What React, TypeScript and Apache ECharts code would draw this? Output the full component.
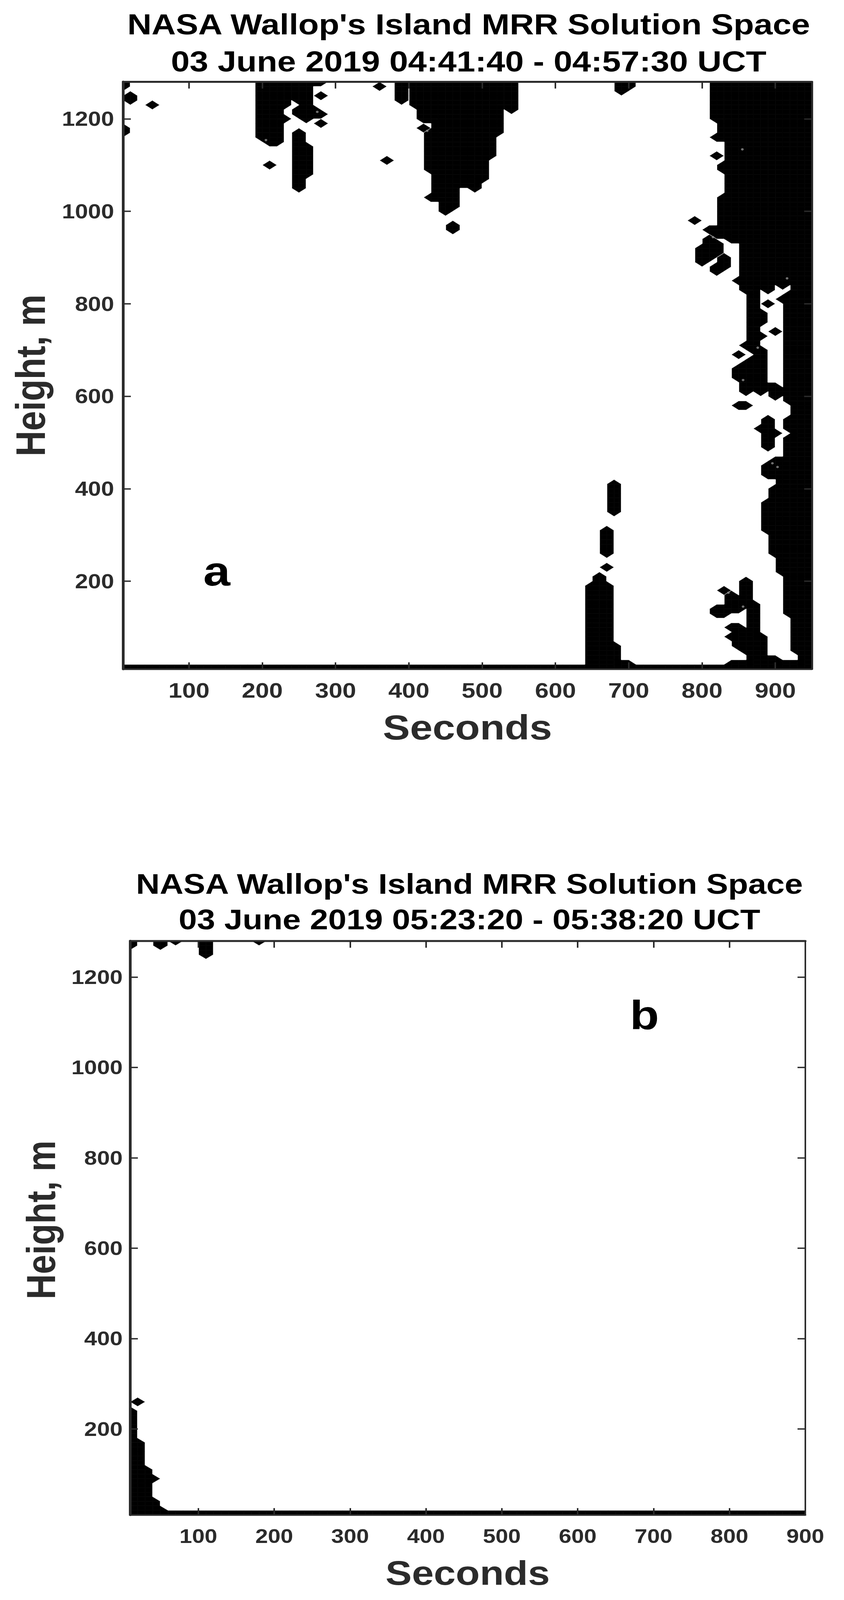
import { useEffect, useRef } from 'react';
import * as echarts from 'echarts';

const xTicksA = [100, 200, 300, 400, 500, 600, 700, 800, 900];
const xTicksB = [100, 200, 300, 400, 500, 600, 700, 800, 900];
const yTicks = [200, 400, 600, 800, 1000, 1200];

const titleA = "NASA Wallop's Island MRR Solution Space\n03 June 2019 04:41:40 - 04:57:30 UCT";
const titleB = "NASA Wallop's Island MRR Solution Space\n03 June 2019 05:23:20 - 05:38:20 UCT";

// solution cells, one entry per column run: [seconds, lowest height, highest height]
const panelARuns = [
  [10, 1170, 1180], [10, 1270, 1280], [20, 1240, 1250], [50, 1230, 1230],
  [200, 1160, 1280], [210, 1100, 1100], [210, 1150, 1280], [220, 1150, 1280],
  [230, 1200, 1200], [230, 1230, 1280], [240, 1250, 1280],
  [250, 1050, 1170], [250, 1210, 1220], [250, 1240, 1280],
  [260, 1080, 1140], [260, 1200, 1280], [270, 1210, 1220], [270, 1280, 1280],
  [280, 1190, 1190], [280, 1210, 1210], [280, 1250, 1250], [280, 1280, 1280],
  [360, 1270, 1270], [370, 1110, 1110], [390, 1240, 1280], [410, 1230, 1280],
  [420, 1180, 1180], [420, 1200, 1280],
  [430, 1030, 1030], [430, 1090, 1170], [430, 1200, 1280],
  [440, 1030, 1280], [450, 1000, 1280], [460, 960, 970], [460, 1010, 1280],
  [470, 1060, 1280], [480, 1060, 1280], [490, 1050, 1280], [500, 1070, 1280],
  [510, 1120, 1280], [520, 1170, 1280], [530, 1230, 1280], [540, 1220, 1280],
  [650, 10, 190], [660, 10, 210], [670, 10, 190], [670, 230, 230], [670, 260, 310],
  [680, 10, 60], [680, 350, 410], [690, 10, 20], [690, 1260, 1280],
  [700, 10, 20], [700, 1270, 1280],
  [790, 980, 980], [800, 890, 920], [810, 900, 940], [810, 960, 960],
  [820, 130, 140], [820, 870, 880], [820, 910, 930], [820, 950, 960],
  [820, 1120, 1120], [820, 1160, 1160], [820, 1200, 1280],
  [830, 130, 140], [830, 180, 180], [830, 880, 900], [830, 950, 1030],
  [830, 1090, 1100], [830, 1160, 1280],
  [840, 10, 20], [840, 80, 80], [840, 100, 100], [840, 140, 170], [840, 940, 1280],
  [850, 10, 20], [850, 60, 100], [850, 140, 160], [850, 580, 580], [850, 640, 660],
  [850, 690, 690], [850, 850, 850], [850, 940, 1280],
  [860, 10, 20], [860, 50, 90], [860, 150, 200], [860, 580, 580], [860, 610, 670],
  [860, 710, 710], [860, 830, 1280],
  [870, 10, 150], [870, 620, 680], [870, 700, 1280],
  [880, 10, 80], [880, 530, 530], [880, 610, 700], [880, 730, 730], [880, 760, 780],
  [880, 840, 1280],
  [890, 10, 30], [890, 310, 370], [890, 430, 450], [890, 490, 550], [890, 620, 620],
  [890, 800, 800], [890, 830, 1280],
  [900, 10, 30], [900, 260, 400], [900, 430, 460], [900, 520, 520], [900, 600, 620],
  [900, 740, 740], [900, 850, 1280],
  [910, 10, 20], [910, 220, 460], [910, 610, 610], [910, 810, 810], [910, 840, 1280],
  [920, 10, 20], [920, 130, 510], [920, 530, 550], [920, 590, 820], [920, 850, 1280],
  [930, 10, 20], [930, 50, 1280], [940, 10, 1280], [950, 10, 1280],
];

const panelBRuns = [
  [10, 10, 240], [10, 1270, 1280], [20, 10, 170], [20, 260, 260], [30, 10, 110],
  [40, 10, 40], [40, 90, 90], [50, 10, 20], [50, 1270, 1280], [70, 1280, 1280],
  [110, 1250, 1280], [180, 1280, 1280],
];

// the lowest range gate is filled for the whole record: [from, to, height]
const panelAGround = [10, 950, 10];
const panelBGround = [10, 900, 10];

// pale pin holes left inside the filled regions of panel a
const panelASpecks = [
  [855, 1134], [815, 944], [916, 855], [876, 705], [856, 635], [836, 175],
  [856, 145], [896, 455], [903, 447], [275, 1215], [205, 1154], [425, 1174],
];

const PAGE_WIDTH = 2161;
const PAGE_HEIGHT = 4771;

const STEP_X = 10;
const STEP_Y = 10;
const LEVEL = 0.08;

type Pt = [number, number];

function buildSquares(runs: number[][], ground: number[]) {
  const on = new Set<string>();
  runs.forEach(([s, lo, hi]) => {
    for (let y = lo; y <= hi; y += STEP_Y) on.add(s + '_' + y);
  });
  for (let s = ground[0]; s <= ground[1]; s += STEP_X) on.add(s + '_' + ground[2]);

  const squares: number[][] = [];
  for (let s = ground[0]; s < ground[1]; s += STEP_X) {
    for (let y = 10; y < 1280; y += STEP_Y) {
      const mask =
        (on.has(s + '_' + y) ? 1 : 0) |
        (on.has(s + STEP_X + '_' + y) ? 2 : 0) |
        (on.has(s + STEP_X + '_' + (y + STEP_Y)) ? 4 : 0) |
        (on.has(s + '_' + (y + STEP_Y)) ? 8 : 0);
      if (mask) squares.push([s, y, mask]);
    }
  }
  return squares;
}

// filled contour just above the empty level, one grid square at a time
function contourPieces(x: number, y: number, mask: number): Pt[][] {
  const c: Pt[] = [
    [x, y],
    [x + STEP_X, y],
    [x + STEP_X, y + STEP_Y],
    [x, y + STEP_Y],
  ];
  const isOn = (i: number) => (mask >> i) & 1;
  const cross = (a: number, off: number): Pt => [
    c[off][0] + LEVEL * (c[a][0] - c[off][0]),
    c[off][1] + LEVEL * (c[a][1] - c[off][1]),
  ];
  if (mask === 5 || mask === 10) {
    const first = mask === 5 ? 0 : 1;
    return [first, first + 2].map((i) => [c[i], cross(i, (i + 1) % 4), cross(i, (i + 3) % 4)]);
  }
  const pts: Pt[] = [];
  for (let i = 0; i < 4; i++) {
    const next = (i + 1) % 4;
    if (isOn(i)) pts.push(c[i]);
    if (isOn(i) && !isOn(next)) pts.push(cross(i, next));
    if (!isOn(i) && isOn(next)) pts.push(cross(next, i));
  }
  return [pts];
}

const renderSquare = (_params: any, api: any) => {
  const pieces = contourPieces(api.value(0), api.value(1), api.value(2));
  return {
    type: 'group',
    children: pieces.map((piece) => ({
      type: 'polygon',
      shape: { points: piece.map((p) => api.coord(p)) },
      style: { fill: '#000', stroke: '#000', lineWidth: 0.7 },
    })),
  };
};

const FONT = '"Liberation Sans", Arial, sans-serif';
const DARK = '#2b2b2b';

function frameAxis(ticks: number[], position: string, lineWidth: number, grid: number, range: number[]) {
  return {
    type: 'value',
    gridIndex: grid,
    position,
    min: range[0],
    max: range[1],
    z: 5,
    splitLine: { show: false },
    axisLine: { show: true, onZero: false, lineStyle: { color: DARK, width: lineWidth } },
    axisTick: { show: true, inside: true, length: 20, customValues: ticks, lineStyle: { color: DARK, width: 4 } },
    axisLabel: { show: false },
  };
}

function labelled(axis: any, fontSize: number, margin: number, ticks: number[], name: string, nameSize: number, nameGap: number, padding: number[]) {
  return {
    ...axis,
    name,
    nameLocation: 'middle',
    nameGap,
    nameTextStyle: { fontFamily: FONT, fontWeight: 'bold', fontSize: nameSize, color: DARK, padding },
    axisLabel: {
      show: true,
      customValues: ticks,
      margin,
      fontFamily: FONT,
      fontWeight: 'bold',
      fontSize,
      color: DARK,
      formatter: (value: number) => String(value),
    },
  };
}

const App = () => {
  const chartRef = useRef<HTMLDivElement>(null);

  useEffect(() => {
    if (!chartRef.current) return;
    document.body.style.margin = '0';
    document.body.style.overflow = 'hidden';
    // the browser window can be shorter than the figure: squeeze the figure so all of it stays in view
    const fit = Math.min(1, window.innerHeight / PAGE_HEIGHT);
    chartRef.current.style.transform = `scale(1, ${fit})`;

    const chart = echarts.init(chartRef.current, undefined, { renderer: 'svg' });

    const rangeXA = [10, 950];
    const rangeXB = [10, 900];
    const rangeY = [10, 1280];

    chart.setOption({
      animation: false,
      backgroundColor: '#fff',
      title: [
        {
          text: titleA,
          left: 1195,
          top: 13,
          textAlign: 'center',
          textStyle: { fontFamily: FONT, fontWeight: 'bold', fontSize: 86, lineHeight: 110, color: '#000' },
        },
        {
          text: titleB,
          left: 1197,
          top: 2578,
          textAlign: 'center',
          textStyle: { fontFamily: FONT, fontWeight: 'bold', fontSize: 84, lineHeight: 106, color: '#000' },
        },
      ],
      grid: [
        { left: 315, top: 244, width: 1764, height: 1751 },
        { left: 333, top: 2806, width: 1729, height: 1711 },
      ],
      xAxis: [
        labelled(frameAxis(xTicksA, 'bottom', 5, 0, rangeXA), 63, 32, xTicksA, 'Seconds', 104, 122, [0, 0, 0, 0]),
        frameAxis(xTicksA, 'top', 6, 0, rangeXA),
        labelled(frameAxis(xTicksB, 'bottom', 5, 1, rangeXB), 58, 35, xTicksB, 'Seconds', 101, 123, [0, 0, 0, 0]),
        frameAxis(xTicksB, 'top', 6, 1, rangeXB),
      ],
      yAxis: [
        labelled(frameAxis(yTicks, 'left', 7, 0, rangeY), 60, 23, yTicks, 'Height, m', 106, 183, [0, 0, 0, 0]),
        frameAxis(yTicks, 'right', 5, 0, rangeY),
        labelled(frameAxis(yTicks, 'left', 7, 1, rangeY), 59, 19, yTicks, 'Height, m', 104, 176, [0, 0, 0, 48]),
        frameAxis(yTicks, 'right', 4, 1, rangeY),
      ],
      graphic: [
        { type: 'text', x: 555, y: 1703, style: { text: 'a', fontFamily: FONT, fontWeight: 'bold', fontSize: 124, fill: '#000', textAlign: 'center', textVerticalAlign: 'middle' } },
        { type: 'text', x: 1650, y: 3026, style: { text: 'b', fontFamily: FONT, fontWeight: 'bold', fontSize: 122, fill: '#000', textAlign: 'center', textVerticalAlign: 'middle' } },
      ],
      series: [
        {
          type: 'custom',
          name: 'Solution space a',
          xAxisIndex: 0,
          yAxisIndex: 0,
          coordinateSystem: 'cartesian2d',
          renderItem: renderSquare,
          data: buildSquares(panelARuns, panelAGround),
          encode: { x: 0, y: 1 },
          progressive: 0,
        },
        {
          type: 'scatter',
          name: 'Pin holes a',
          xAxisIndex: 0,
          yAxisIndex: 0,
          data: panelASpecks,
          symbolSize: 7,
          z: 3,
          itemStyle: { color: '#8c8c8c' },
        },
        {
          type: 'custom',
          name: 'Solution space b',
          xAxisIndex: 2,
          yAxisIndex: 2,
          coordinateSystem: 'cartesian2d',
          renderItem: renderSquare,
          data: buildSquares(panelBRuns, panelBGround),
          encode: { x: 0, y: 1 },
          progressive: 0,
        },
      ],
    });

    return () => {
      chart.dispose();
    };
  }, []);

  return <div ref={chartRef} style={{ width: PAGE_WIDTH, height: PAGE_HEIGHT, transformOrigin: '0 0' }} />;
};

export default App;
